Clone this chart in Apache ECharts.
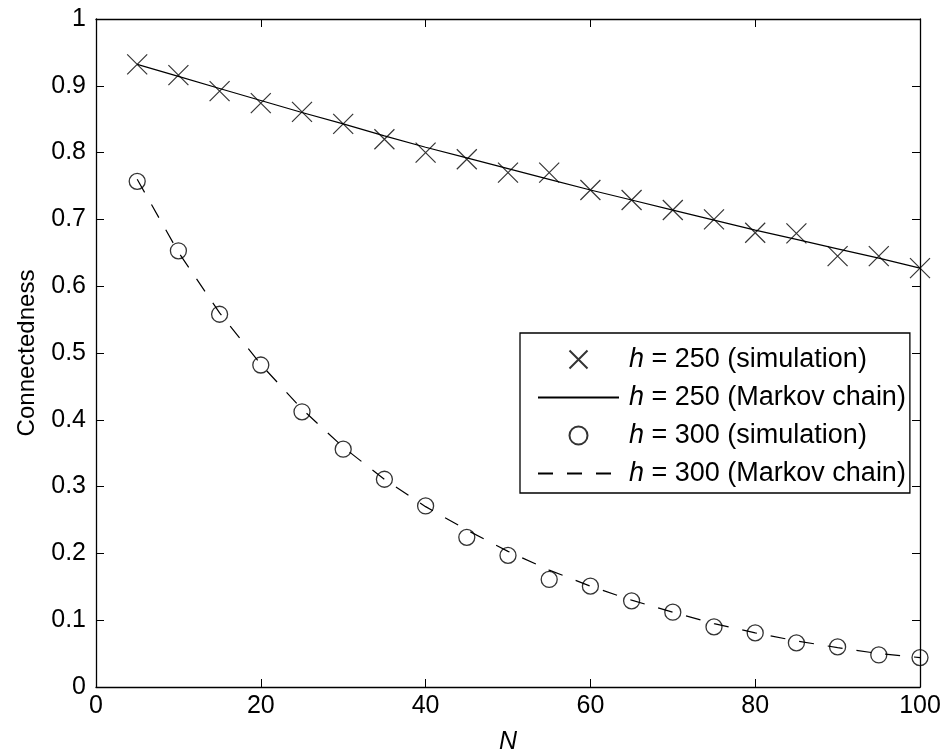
<!DOCTYPE html>
<html>
<head>
<meta charset="utf-8">
<script src="https://cdn.jsdelivr.net/npm/echarts@6/dist/echarts.min.js"></script>
<style>
  html, body { margin: 0; padding: 0; background: #fff; }
</style>
</head>
<body>
<div id="chart" style="width: 942px; height: 755px"></div>
<script>
// values
const nValues = [5, 10, 15, 20, 25, 30, 35, 40, 45, 50, 55, 60, 65, 70, 75, 80, 85, 90, 95, 100]
const sim250 = [0.932, 0.916, 0.892, 0.874, 0.861, 0.843, 0.820, 0.800, 0.790, 0.770,
  0.770, 0.744, 0.729, 0.714, 0.700, 0.680, 0.679, 0.645, 0.645, 0.627]
const markov250 = [0.932, 0.914, 0.896, 0.878, 0.860, 0.843, 0.825, 0.808, 0.792, 0.776,
  0.760, 0.744, 0.729, 0.714, 0.699, 0.684, 0.670, 0.656, 0.642, 0.627]
const sim300 = [0.757, 0.653, 0.558, 0.482, 0.412, 0.356, 0.311, 0.271, 0.224, 0.197,
  0.161, 0.151, 0.129, 0.112, 0.090, 0.081, 0.066, 0.060, 0.048, 0.044]
const markov300 = [0.760, 0.651, 0.560, 0.483, 0.416, 0.359, 0.311, 0.270, 0.235, 0.203,
  0.175, 0.151, 0.130, 0.112, 0.095, 0.081, 0.069, 0.059, 0.050, 0.044]
const legendNames = ['250 (simulation)', '250 (Markov chain)', '300 (simulation)', '300 (Markov chain)']

const pairs = (ys) => nValues.map((x, i) => [x, ys[i]])
const chart = echarts.init(document.getElementById('chart'))
const font = 'Liberation Sans, Arial, Helvetica, sans-serif'
const crossPath = 'path://M0,0L10,10M10,0L0,10'
const noDot = { color: 'none', borderWidth: 0, opacity: 0 }

const axisCommon = {
  axisLine: { show: true, onZero: false, lineStyle: { color: '#000', width: 1.3 } },
  axisTick: { show: true, inside: true, length: 8, lineStyle: { color: '#000', width: 1 } },
  splitLine: { show: false },
}

const option = {
  animation: false,
  backgroundColor: '#fff',
  textStyle: { fontFamily: font },
  grid: { left: 96, top: 19, right: 22, bottom: 68, containLabel: false, outerBoundsMode: 'none' },
  legend: {
    orient: 'vertical',
    left: 520,
    top: 333,
    padding: [13, 4, 6, 17],
    itemWidth: 81,
    itemHeight: 18,
    itemGap: 11,
    borderColor: '#000',
    borderWidth: 1.3,
    borderRadius: 0,
    backgroundColor: '#fff',
    selectedMode: false,
    data: [
      { name: legendNames[0] },
      { name: legendNames[1], itemStyle: noDot },
      { name: legendNames[2] },
      { name: legendNames[3], itemStyle: noDot },
    ],
    formatter: (name) => '{i|h} = ' + name,
    textStyle: {
      fontFamily: font,
      fontSize: 27,
      lineHeight: 27,
      color: '#000',
      padding: [0, 0, 0, 5],
      rich: {
        i: { fontStyle: 'italic', fontSize: 27, lineHeight: 27, fontFamily: font, color: '#000' },
      },
    },
  },
  xAxis: [
    {
      type: 'value', min: 0, max: 100, interval: 20, position: 'bottom',
      name: 'N', nameLocation: 'middle', nameGap: 43,
      nameTextStyle: { fontStyle: 'italic', fontSize: 25, color: '#000', fontFamily: font },
      axisLabel: { color: '#000', fontSize: 25, margin: 7, fontFamily: font },
      ...axisCommon,
    },
    {
      type: 'value', min: 0, max: 100, interval: 20, position: 'top',
      axisLabel: { show: false },
      ...axisCommon,
    },
  ],
  yAxis: [
    {
      type: 'value', min: 0, max: 1, interval: 0.1, position: 'left',
      name: 'Connectedness', nameLocation: 'middle', nameGap: 57,
      nameTextStyle: { fontSize: 24, color: '#000', fontFamily: font },
      axisLabel: { color: '#000', fontSize: 25, margin: 10, fontFamily: font },
      ...axisCommon,
    },
    {
      type: 'value', min: 0, max: 1, interval: 0.1, position: 'right',
      axisLabel: { show: false },
      ...axisCommon,
    },
  ],
  series: [
    {
      name: legendNames[1],
      type: 'line',
      data: pairs(markov250),
      symbol: 'none',
      itemStyle: { color: '#000' },
      lineStyle: { color: '#000', width: 1.2 },
      z: 2,
    },
    {
      name: legendNames[3],
      type: 'line',
      data: pairs(markov300),
      symbol: 'none',
      itemStyle: { color: '#000' },
      lineStyle: { color: '#000', width: 1.2, type: [15, 14] },
      z: 2,
    },
    {
      name: legendNames[0],
      type: 'scatter',
      data: pairs(sim250),
      symbol: crossPath,
      symbolSize: 20,
      itemStyle: { color: 'none', borderColor: '#000', borderWidth: 1.2 },
      z: 3,
    },
    {
      name: legendNames[2],
      type: 'scatter',
      data: pairs(sim300),
      symbol: 'circle',
      symbolSize: 16,
      itemStyle: { color: 'none', borderColor: '#000', borderWidth: 1.3 },
      z: 3,
    },
  ],
}

option && chart.setOption(option)
</script>
</body>
</html>
